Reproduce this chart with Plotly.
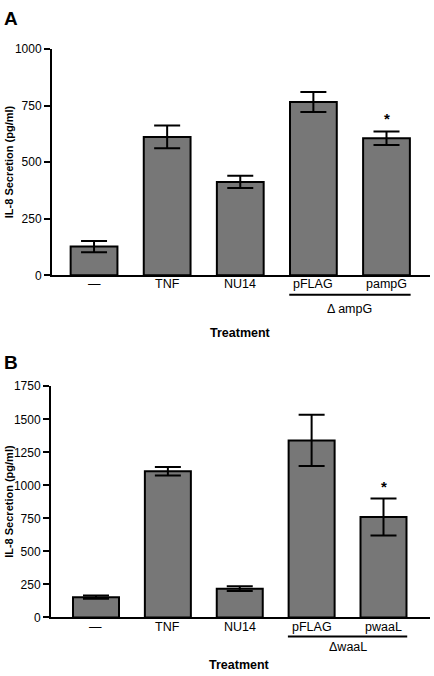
import plotly.graph_objects as go

# ---- data ----
categories_a = ["—", "TNF", "NU14", "pFLAG", "pampG"]
values_a = [127, 612, 413, 766, 606]
errors_a = [25, 50, 27, 44, 30]
group_label_a = "Δ ampG"

categories_b = ["—", "TNF", "NU14", "pFLAG", "pwaaL"]
values_b = [153, 1107, 217, 1340, 760]
errors_b = [12, 32, 18, 194, 140]
group_label_b = "ΔwaaL"

yticks_a = [0, 250, 500, 750, 1000]
yticks_b = [0, 250, 500, 750, 1000, 1250, 1500, 1750]

W, H = 434, 676
FONT = "Liberation Sans, Arial, sans-serif"
BAR = "#777777"

fig = go.Figure()

def px_x(p):
    return p / W

def px_y(p):
    return 1 - p / H

panels = [
    dict(cats=categories_a, vals=values_a, errs=errors_a, grp=group_label_a,
         ticks=yticks_a, yr=[0, 1000], xr=[-0.575, 4.595],
         xdom=[px_x(52), px_x(430)], ydom=[px_y(274), px_y(43)],
         xa="x", ya="y", letter="A", lety=11.5,
         lab_y=-0.040, br_y=-0.086, grp_y=-0.147, tr_y=-0.255),
    dict(cats=categories_b, vals=values_b, errs=errors_b, grp=group_label_b,
         ticks=yticks_b, yr=[0, 1750], xr=[-0.626, 4.647],
         xdom=[px_x(51), px_x(430)], ydom=[px_y(623.3), px_y(387.3)],
         xa="x2", ya="y2", letter="B", lety=363,
         lab_y=-0.043, br_y=-0.083, grp_y=-0.126, tr_y=-0.206),
]

annotations = []
shapes = []
for i, p in enumerate(panels):
    xs = list(range(len(p["cats"])))
    fig.add_trace(go.Bar(
        x=xs, y=p["vals"], width=0.64,
        marker=dict(color=BAR, line=dict(color="black", width=2)),
        error_y=dict(type="data", array=p["errs"], visible=True,
                     color="black", thickness=2, width=13),
        xaxis=p["xa"], yaxis=p["ya"], showlegend=False,
    ))
    sfx = "" if i == 0 else "2"
    fig.layout["xaxis" + sfx] = dict(
        domain=p["xdom"], range=p["xr"], anchor=p["ya"],
        tickvals=xs, showticklabels=False, ticks="", showline=True,
        linecolor="black", linewidth=2, showgrid=False, zeroline=False,
        fixedrange=True,
    )
    fig.layout["yaxis" + sfx] = dict(
        domain=p["ydom"], range=p["yr"], anchor=p["xa"],
        tickvals=p["ticks"], ticks="outside", ticklen=6, tickwidth=2,
        tickcolor="black", showline=True, linecolor="black", linewidth=2,
        showgrid=False, zeroline=False,
        tickfont=dict(family=FONT, size=12, color="black"), fixedrange=True,
    )
    xref = p["xa"]
    ydref = p["ya"] + " domain"
    # category labels
    for xv, cat in zip(xs, p["cats"]):
        annotations.append(dict(xref=xref, yref=ydref, x=xv, y=p["lab_y"],
                                text=cat, showarrow=False, yanchor="middle",
                                font=dict(family=FONT, size=12.5, color="black")))
    # group bracket under the last two bars
    shapes.append(dict(type="line", xref=xref, yref=ydref,
                       x0=3 - 0.33, x1=4 + 0.33, y0=p["br_y"], y1=p["br_y"],
                       line=dict(color="black", width=2)))
    annotations.append(dict(xref=xref, yref=ydref, x=3.5, y=p["grp_y"],
                            text=p["grp"], showarrow=False,
                            font=dict(family=FONT, size=12.5, color="black"),
                            yanchor="middle"))
    annotations.append(dict(xref=xref, yref=ydref, x=2, y=p["tr_y"],
                            text="<b>Treatment</b>", showarrow=False,
                            font=dict(family=FONT, size=12.5, color="black"),
                            yanchor="middle"))
    # star over the last bar
    annotations.append(dict(xref=xref, yref=p["ya"], x=4,
                            y=p["vals"][4] + p["errs"][4], text="<b>*</b>",
                            showarrow=False, yanchor="bottom", yshift=2,
                            font=dict(family=FONT, size=15, color="black")))
    # y axis title
    annotations.append(dict(xref="paper", yref=ydref, x=px_x(9), y=0.5,
                            text="<b>IL-8 Secretion (pg/ml)</b>", textangle=-90,
                            showarrow=False, xanchor="center", yanchor="middle",
                            font=dict(family=FONT, size=11, color="black")))
    # panel letter
    annotations.append(dict(xref="paper", yref="paper", x=px_x(10.5),
                            y=px_y(p["lety"]), text="<b>" + p["letter"] + "</b>",
                            showarrow=False, xanchor="center", yanchor="middle",
                            font=dict(family=FONT, size=19, color="black")))

fig.update_layout(
    width=W, height=H, margin=dict(l=0, r=0, t=0, b=0),
    paper_bgcolor="white", plot_bgcolor="white",
    annotations=annotations, shapes=shapes, bargap=0.3,
)

fig.write_html("out.html", config=dict(displayModeBar=False),
               post_script="document.body.style.margin='0';"
                           "document.body.style.overflow='hidden';")
